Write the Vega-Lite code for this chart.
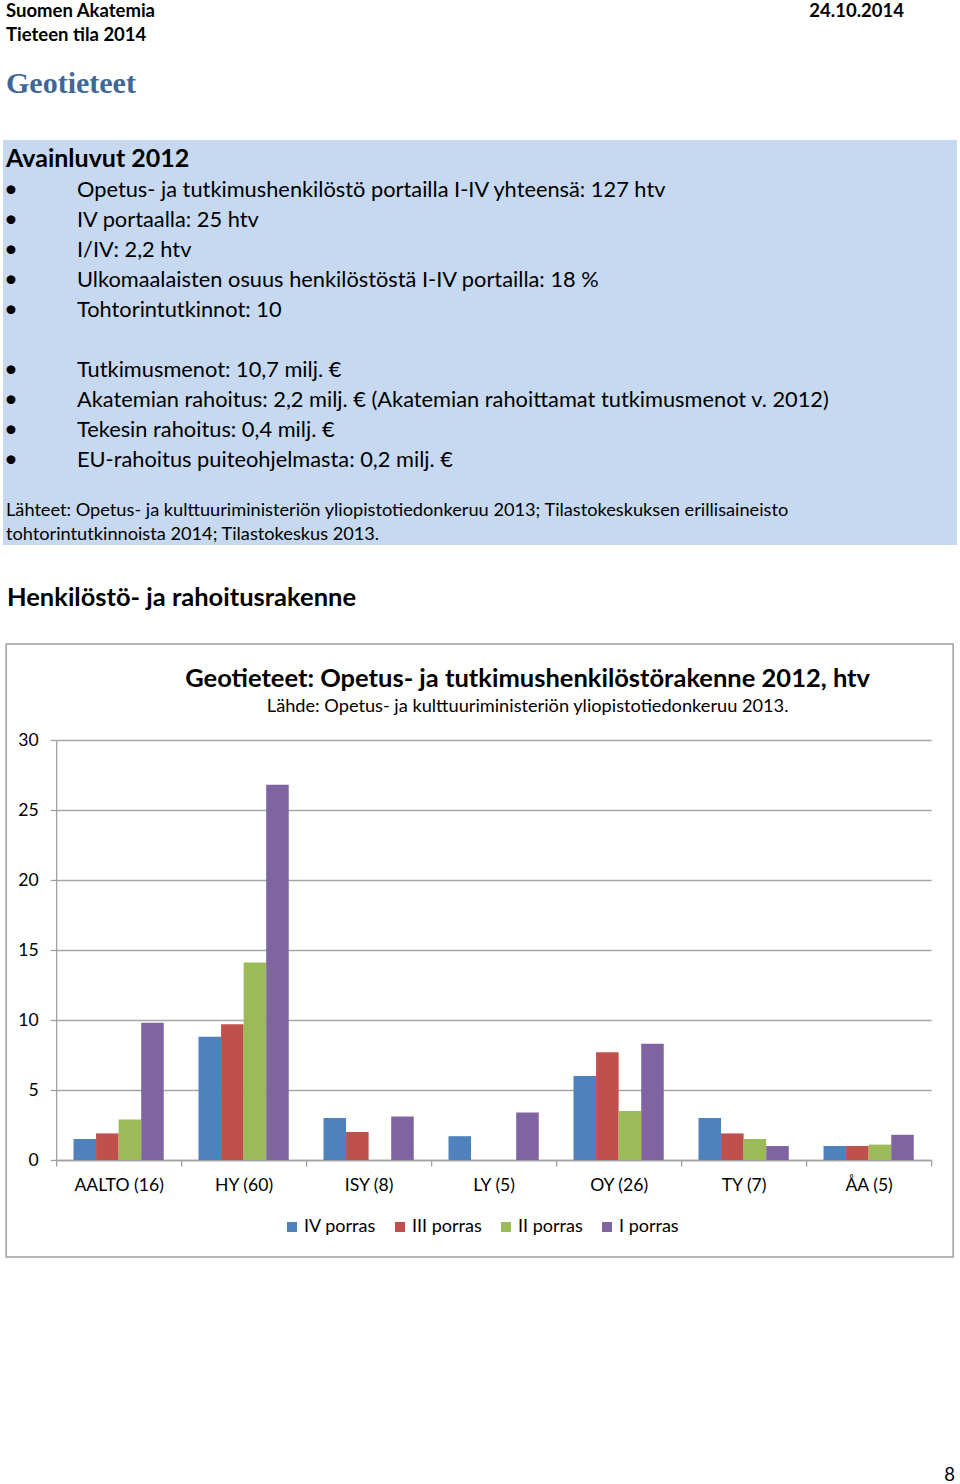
{
  "$schema": "https://vega.github.io/schema/vega-lite/v6.json",
  "padding": 0,
  "spacing": 0,
  "center": true,
  "background": "white",
  "config": {"view": {"stroke": null}, "font": "Lato"},
  "title": {"text": "8", "orient": "bottom", "anchor": "end", "offset": 208, "dx": -5, "fontSize": 18.5, "font": "Lato", "fontWeight": "normal", "color": "black"},
  "vconcat": [
    {
      "width": 960,
      "height": 140,
      "data": {"values": [
        {"line": 1, "side": "left", "text": "Suomen Akatemia"},
        {"line": 2, "side": "left", "text": "Tieteen tila 2014"},
        {"line": 1, "side": "right", "text": "24.10.2014"},
        {"line": 4, "side": "left", "text": "Geotieteet"}
      ]},
      "encoding": {
        "x": {"field": "side", "type": "nominal", "scale": {"type": "point", "domain": ["left", "right"], "range": [6, 904], "padding": 0}, "axis": null},
        "y": {"field": "line", "type": "ordinal", "scale": {"type": "point", "domain": [1, 2, 3, 4, 5, 6], "padding": 0.42}, "axis": null},
        "text": {"field": "text"}
      },
      "layer": [
        {"transform": [{"filter": "datum.line < 4 && datum.side == 'left'"}],
         "mark": {"type": "text", "align": "left", "baseline": "middle", "font": "Lato", "fontWeight": "bold", "fontSize": 18.5, "color": "black", "dy": 1}},
        {"transform": [{"filter": "datum.side == 'right'"}],
         "mark": {"type": "text", "align": "right", "baseline": "middle", "font": "Lato", "fontWeight": "bold", "fontSize": 18.5, "color": "black", "dy": 1}},
        {"transform": [{"filter": "datum.line == 4"}],
         "mark": {"type": "text", "align": "left", "baseline": "middle", "font": "Liberation Serif", "fontWeight": "bold", "fontSize": 30, "color": "#3f6797", "dy": 2}}
      ]
    },
    {
      "width": 954,
      "height": 405,
      "view": {"fill": "#c6d9f1", "stroke": null},
      "data": {"values": [
        {"line": 0, "kind": "heading", "text": "Avainluvut 2012"},
        {"line": 1, "kind": "item", "text": "Opetus- ja tutkimushenkilöstö portailla I-IV yhteensä: 127 htv"},
        {"line": 2, "kind": "item", "text": "IV portaalla: 25 htv"},
        {"line": 3, "kind": "item", "text": "I/IV: 2,2 htv"},
        {"line": 4, "kind": "item", "text": "Ulkomaalaisten osuus henkilöstöstä I-IV portailla: 18 %"},
        {"line": 5, "kind": "item", "text": "Tohtorintutkinnot: 10"},
        {"line": 7, "kind": "item", "text": "Tutkimusmenot: 10,7 milj. €"},
        {"line": 8, "kind": "item", "text": "Akatemian rahoitus: 2,2 milj. € (Akatemian rahoittamat tutkimusmenot v. 2012)"},
        {"line": 9, "kind": "item", "text": "Tekesin rahoitus: 0,4 milj. €"},
        {"line": 10, "kind": "item", "text": "EU-rahoitus puiteohjelmasta: 0,2 milj. €"},
        {"line": 12, "kind": "source", "text": "Lähteet: Opetus- ja kulttuuriministeriön yliopistotiedonkeruu 2013; Tilastokeskuksen erillisaineisto\ntohtorintutkinnoista 2014; Tilastokeskus 2013."}
      ]},
      "encoding": {
        "y": {"field": "line", "type": "quantitative", "scale": {"domain": [0, 12], "range": [20, 380], "nice": false, "zero": false}, "axis": null},
        "text": {"field": "text"}
      },
      "layer": [
        {"transform": [{"filter": "datum.kind == 'heading'"}],
         "mark": {"type": "text", "align": "left", "baseline": "middle", "font": "Lato", "fontWeight": "bold", "fontSize": 25, "color": "black", "dy": -1},
         "encoding": {"x": {"datum": "margin", "type": "nominal", "scale": {"type": "point", "domain": ["margin", "indent"], "range": [3, 74], "padding": 0}, "axis": null}}},
        {"transform": [{"filter": "datum.kind == 'item'"}],
         "mark": {"type": "text", "align": "left", "baseline": "middle", "font": "Lato", "fontSize": 21.8, "color": "black"},
         "encoding": {"x": {"datum": "indent", "type": "nominal", "scale": {"type": "point", "domain": ["margin", "indent"], "range": [3, 74], "padding": 0}, "axis": null}}},
        {"transform": [{"filter": "datum.kind == 'item'"}],
         "mark": {"type": "text", "align": "center", "baseline": "middle", "font": "Lato", "fontSize": 24, "color": "black", "dx": -66},
         "encoding": {"x": {"datum": "indent", "type": "nominal", "scale": {"type": "point", "domain": ["margin", "indent"], "range": [3, 74], "padding": 0}, "axis": null}, "text": {"value": "•"}}},
        {"transform": [{"filter": "datum.kind == 'source'"}],
         "mark": {"type": "text", "align": "left", "baseline": "middle", "font": "Lato", "fontSize": 18.2, "color": "black", "lineBreak": "\n", "lineHeight": 24, "dy": -9},
         "encoding": {"x": {"datum": "margin", "type": "nominal", "scale": {"type": "point", "domain": ["margin", "indent"], "range": [3, 74], "padding": 0}, "axis": null}}}
      ]
    },
    {
      "width": 947,
      "height": 98,
      "data": {"values": [{"text": "Henkilöstö- ja rahoitusrakenne"}]},
      "mark": {"type": "text", "align": "left", "baseline": "middle", "font": "Lato", "fontWeight": "bold", "fontSize": 25.5, "color": "black", "dy": 4},
      "encoding": {
        "x": {"datum": "start", "type": "nominal", "scale": {"type": "point", "domain": ["start", "end"], "range": [0.5, 947], "padding": 0}, "axis": null},
        "text": {"field": "text"}
      }
    },
    {
      "width": 947,
      "height": 613,
      "view": {"stroke": "#a0a0a0", "strokeWidth": 1.5, "fill": "white"},
      "title": {
        "text": "Geotieteet: Opetus- ja tutkimushenkilöstörakenne 2012, htv",
        "subtitle": "Lähde: Opetus- ja kulttuuriministeriön yliopistotiedonkeruu 2013.",
        "anchor": "middle", "dx": 48, "dy": 75,
        "font": "Lato", "fontSize": 25.5, "fontWeight": "bold", "color": "black",
        "subtitleFont": "Lato", "subtitleFontSize": 18.2, "subtitleColor": "black", "subtitlePadding": 5
      },
      "data": {"values": [
        {"yliopisto": "AALTO (16)", "porras": "IV porras", "htv": 1.5},
        {"yliopisto": "AALTO (16)", "porras": "III porras", "htv": 1.9},
        {"yliopisto": "AALTO (16)", "porras": "II porras", "htv": 2.9},
        {"yliopisto": "AALTO (16)", "porras": "I porras", "htv": 9.8},
        {"yliopisto": "HY (60)", "porras": "IV porras", "htv": 8.8},
        {"yliopisto": "HY (60)", "porras": "III porras", "htv": 9.7},
        {"yliopisto": "HY (60)", "porras": "II porras", "htv": 14.1},
        {"yliopisto": "HY (60)", "porras": "I porras", "htv": 26.8},
        {"yliopisto": "ISY (8)", "porras": "IV porras", "htv": 3.0},
        {"yliopisto": "ISY (8)", "porras": "III porras", "htv": 2.0},
        {"yliopisto": "ISY (8)", "porras": "II porras", "htv": 0},
        {"yliopisto": "ISY (8)", "porras": "I porras", "htv": 3.1},
        {"yliopisto": "LY (5)", "porras": "IV porras", "htv": 1.7},
        {"yliopisto": "LY (5)", "porras": "III porras", "htv": 0},
        {"yliopisto": "LY (5)", "porras": "II porras", "htv": 0},
        {"yliopisto": "LY (5)", "porras": "I porras", "htv": 3.4},
        {"yliopisto": "OY (26)", "porras": "IV porras", "htv": 6.0},
        {"yliopisto": "OY (26)", "porras": "III porras", "htv": 7.7},
        {"yliopisto": "OY (26)", "porras": "II porras", "htv": 3.5},
        {"yliopisto": "OY (26)", "porras": "I porras", "htv": 8.3},
        {"yliopisto": "TY (7)", "porras": "IV porras", "htv": 3.0},
        {"yliopisto": "TY (7)", "porras": "III porras", "htv": 1.9},
        {"yliopisto": "TY (7)", "porras": "II porras", "htv": 1.5},
        {"yliopisto": "TY (7)", "porras": "I porras", "htv": 1.0},
        {"yliopisto": "ÅA (5)", "porras": "IV porras", "htv": 1.0},
        {"yliopisto": "ÅA (5)", "porras": "III porras", "htv": 1.0},
        {"yliopisto": "ÅA (5)", "porras": "II porras", "htv": 1.1},
        {"yliopisto": "ÅA (5)", "porras": "I porras", "htv": 1.8}
      ]},
      "mark": {"type": "bar"},
      "encoding": {
        "x": {"field": "yliopisto", "type": "nominal", "sort": null,
              "scale": {"range": [50, 925], "paddingInner": 0, "paddingOuter": 0},
              "axis": {"title": null, "labelAngle": 0, "offset": -97, "tickBand": "extent", "tickSize": 6, "tickColor": "#a0a0a0", "domainColor": "#a0a0a0", "tickWidth": 1.3, "domainWidth": 1.3, "labelFont": "Lato", "labelFontSize": 17.6, "labelColor": "black", "labelPadding": 10, "grid": false}},
        "xOffset": {"field": "porras", "type": "nominal",
              "scale": {"domain": ["IV porras", "III porras", "II porras", "I porras"], "paddingInner": 0, "paddingOuter": 0.77}},
        "y": {"field": "htv", "type": "quantitative",
              "scale": {"domain": [0, 30], "range": [516, 96], "nice": false},
              "axis": {"title": null, "offset": -50, "values": [0, 5, 10, 15, 20, 25, 30], "tickSize": 6, "tickColor": "#a0a0a0", "domainColor": "#a0a0a0", "tickWidth": 1.3, "domainWidth": 1.3, "grid": true, "gridColor": "#a6a6a6", "gridWidth": 1.3, "labelFont": "Lato", "labelFontSize": 17.6, "labelColor": "black", "labelPadding": 12}},
        "color": {"field": "porras", "type": "nominal",
              "scale": {"domain": ["IV porras", "III porras", "II porras", "I porras"], "range": ["#4F81BD", "#C0504D", "#9BBB59", "#8064A2"]},
              "legend": {"orient": "none", "legendX": 283, "legendY": 1218, "direction": "horizontal", "columns": 4, "title": null, "symbolType": "square", "symbolSize": 100, "symbolStrokeWidth": 0, "labelFont": "Lato", "labelFontSize": 18, "labelColor": "black", "columnPadding": 15, "labelOffset": 3, "padding": 0}}
      }
    }
  ]
}
